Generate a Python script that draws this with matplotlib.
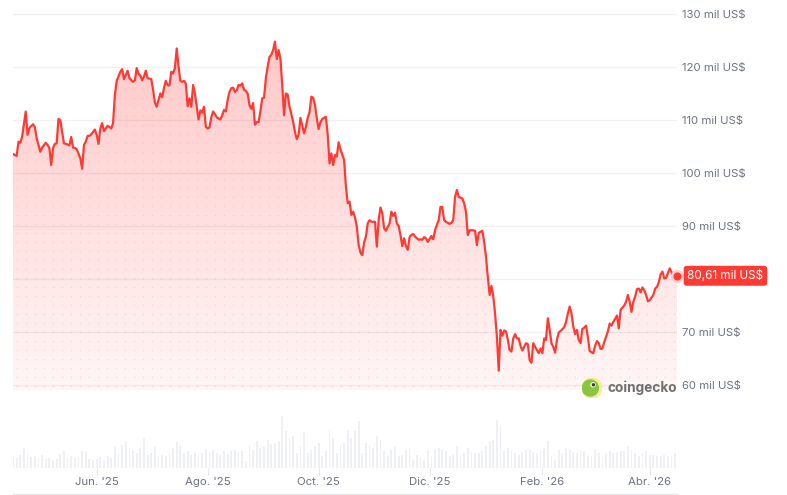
import numpy as np
import matplotlib
matplotlib.use('Agg')
import matplotlib.pyplot as plt
import matplotlib.dates as mdates
from matplotlib.colors import LinearSegmentedColormap
from matplotlib.lines import Line2D
from matplotlib.patches import Circle

plt.rcParams['font.family'] = ['Inter', 'DejaVu Sans']

start = np.datetime64('2025-04-16')

# days since start, price in thousands of USD
price_days = [0, 2, 3, 4, 5, 7, 8, 9, 11, 12, 13, 15, 16, 18, 19, 20, 21, 22, 23, 24,
              25, 26, 27, 28, 30, 31, 32, 33, 34, 35, 37, 38, 39, 40, 41, 42, 43, 45, 46, 47,
              48, 49, 50, 52, 53, 54, 55, 56, 57, 59, 60, 61, 63, 64, 66, 67, 68, 69, 70, 71,
              72, 73, 74, 76, 77, 78, 79, 80, 81, 82, 83, 84, 85, 86, 87, 88, 89, 90, 91, 92,
              93, 94, 95, 96, 97, 98, 99, 100, 101, 102, 103, 104, 105, 106, 107, 108, 109, 110, 111, 112,
              114, 115, 116, 117, 118, 119, 120, 121, 122, 123, 124, 125, 126, 127, 128, 129, 130, 131, 132, 133,
              134, 135, 136, 137, 138, 139, 140, 141, 142, 143, 144, 145, 146, 147, 148, 149, 150, 151, 152, 154,
              155, 156, 157, 158, 160, 161, 162, 163, 164, 165, 166, 167, 168, 169, 170, 172, 173, 174, 175, 176,
              177, 178, 179, 180, 182, 183, 184, 185, 186, 187, 188, 189, 190, 191, 192, 193, 194, 195, 196, 197,
              199, 200, 201, 202, 203, 204, 205, 206, 207, 208, 209, 210, 211, 212, 213, 214, 215, 216, 217, 218,
              219, 220, 221, 223, 224, 225, 226, 227, 228, 230, 231, 232, 233, 234, 235, 236, 237, 238, 240, 241,
              242, 243, 244, 245, 247, 248, 249, 250, 251, 253, 254, 255, 256, 258, 259, 260, 261, 262, 263, 264,
              265, 266, 267, 268, 269, 270, 271, 272, 273, 274, 275, 276, 277, 278, 279, 280, 281, 282, 283, 284,
              285, 286, 287, 289, 290, 291, 292, 293, 294, 295, 296, 297, 298, 299, 300, 301, 303, 304, 305, 306,
              307, 308, 309, 310, 311, 312, 313, 314, 315, 316, 317, 318, 319, 320, 321, 322, 323, 324, 325, 326,
              327, 328, 329, 330, 331, 332, 333, 334, 335, 336, 337, 338, 339, 340, 341, 342, 343, 344, 345, 346,
              347, 348, 349, 350, 352, 353, 354, 355, 356, 357, 358, 359, 360, 361, 362, 363, 364, 365]
price_k = [103.6, 103.2, 105.9, 105.7, 106.8, 111.6, 107.2, 108.5, 109.2, 108.7, 106.6, 104.0, 104.8, 105.7, 105.3, 104.7, 101.5, 104.7, 105.5, 105.6,
           110.2, 110.0, 107.8, 105.6, 105.4, 105.2, 106.8, 104.8, 104.7, 104.5, 102.8, 100.8, 105.3, 105.9, 107.0, 107.0, 107.3, 108.2, 107.2, 105.5,
           108.4, 109.4, 107.9, 108.9, 108.7, 108.4, 109.4, 114.7, 117.4, 119.1, 119.6, 117.7, 119.3, 117.9, 117.2, 117.5, 119.8, 118.7, 118.4, 117.5,
           118.2, 119.3, 117.9, 117.7, 115.7, 113.3, 112.5, 113.8, 115.0, 114.3, 116.0, 117.4, 116.6, 116.5, 119.1, 118.8, 119.8, 123.5, 120.1, 117.4,
           117.2, 117.4, 116.9, 112.6, 114.1, 112.5, 116.6, 115.0, 112.5, 110.1, 111.8, 111.4, 112.5, 108.7, 108.4, 108.6, 110.5, 111.6, 111.1, 110.5,
           110.1, 110.9, 111.9, 111.6, 113.8, 115.3, 116.0, 116.1, 115.3, 115.6, 116.6, 116.5, 116.9, 115.7, 115.5, 115.0, 112.8, 112.1, 113.2, 109.1,
           109.6, 109.6, 111.6, 114.1, 114.2, 117.9, 120.1, 121.9, 122.3, 123.2, 124.8, 121.5, 123.2, 121.6, 116.6, 110.9, 115.0, 114.8, 112.5, 109.7,
           107.7, 106.4, 107.2, 110.4, 107.5, 108.7, 110.4, 111.5, 114.4, 114.2, 112.8, 110.3, 108.3, 109.6, 110.2, 110.6, 107.2, 101.8, 103.7, 101.5,
           103.4, 103.1, 105.8, 104.5, 102.5, 97.4, 94.3, 94.6, 92.1, 92.7, 91.6, 89.9, 86.4, 85.0, 84.5, 86.9, 88.0, 90.5, 91.1, 90.8,
           90.8, 86.1, 91.1, 93.5, 92.4, 89.6, 89.1, 89.8, 90.5, 92.7, 91.9, 92.5, 90.5, 90.0, 88.3, 86.2, 87.7, 86.2, 85.5, 87.9,
           88.3, 88.5, 88.0, 87.4, 87.5, 87.4, 87.9, 87.7, 87.0, 88.1, 87.5, 89.2, 90.2, 91.1, 93.6, 93.6, 91.1, 90.8, 90.4, 90.6,
           91.1, 95.5, 96.8, 95.5, 95.2, 94.3, 92.7, 88.3, 89.2, 89.2, 89.1, 86.4, 88.7, 89.1, 87.0, 84.2, 80.4, 77.0, 78.7, 76.8,
           73.5, 69.1, 62.7, 70.4, 69.3, 70.3, 70.1, 68.6, 66.6, 66.3, 68.8, 69.6, 68.8, 68.8, 67.4, 66.5, 67.2, 67.9, 67.7, 64.7,
           64.2, 67.9, 67.2, 66.0, 66.9, 66.0, 68.8, 68.5, 72.6, 70.4, 67.9, 67.2, 66.1, 68.5, 69.9, 70.2, 70.9, 71.9, 73.5, 74.8,
           73.5, 71.0, 69.6, 70.4, 68.5, 67.9, 70.6, 70.8, 71.2, 69.1, 66.4, 66.2, 66.0, 67.4, 68.3, 67.9, 66.8, 66.9, 68.1, 69.1,
           70.1, 71.6, 71.2, 71.9, 72.5, 73.1, 70.7, 74.2, 74.6, 75.0, 75.7, 77.0, 75.7, 73.8, 75.7, 76.7, 78.1, 78.2, 77.5, 78.4,
           77.9, 77.0, 75.8, 76.0, 77.0, 78.2, 78.5, 79.4, 80.9, 81.4, 80.1, 80.2, 81.1, 82.0, 81.3, 80.0, 80.2, 80.61]

# volume every second day, billions USD
vol_days = list(range(0, 365, 2))
volume_bn = [10, 10, 13, 20, 13, 11, 12, 10, 13, 9, 10, 8, 9, 14, 17, 10, 12, 10, 11, 17,
             16, 9, 8, 9, 11, 8, 12, 10, 22, 14, 23, 26, 20, 17, 15, 20, 30, 13, 15, 22,
             12, 13, 12, 13, 20, 26, 22, 15, 17, 13, 15, 13, 15, 19, 16, 18, 15, 13, 17, 14,
             17, 18, 16, 17, 7, 23, 18, 27, 20, 22, 28, 24, 25, 27, 52, 37, 30, 32, 15, 22,
             36, 15, 18, 22, 25, 12, 17, 37, 30, 15, 23, 25, 38, 30, 37, 47, 15, 25, 23, 20,
             32, 28, 17, 12, 18, 22, 12, 13, 18, 20, 8, 13, 11, 8, 17, 12, 18, 20, 19, 17,
             12, 14, 22, 13, 15, 20, 16, 15, 15, 17, 22, 27, 28, 48, 43, 17, 20, 17, 15, 13,
             16, 18, 18, 16, 15, 17, 20, 27, 12, 8, 18, 15, 20, 18, 16, 15, 18, 17, 12, 12,
             18, 15, 12, 15, 17, 15, 16, 17, 17, 22, 18, 15, 12, 15, 17, 13, 13, 12, 12, 13,
             12, 12, 15]

tick_dates = ['2025-06-01', '2025-08-01', '2025-10-01', '2025-12-01', '2026-02-01', '2026-04-01']
tick_labels = ["Jun. '25", "Ago. '25", "Oct. '25", "Dic. '25", "Feb. '26", "Abr. '26"]
y_ticks = [60, 70, 80, 90, 100, 110, 120, 130]
last_label = '80,61 mil US$'

W, H = 787, 495
RED = '#ff3a33'
GREY = '#6b7280'


def rect(x0, y0, x1, y1):
    return [x0 / W, 1 - y1 / H, (x1 - x0) / W, (y1 - y0) / H]


fig = plt.figure(figsize=(W / 100, H / 100), dpi=100)
ax = fig.add_axes(rect(13, 5, 677, 390))
axv = fig.add_axes(rect(13, 400, 677, 468), sharex=ax)

dates = start + np.array(price_days).astype('timedelta64[D]')
x = mdates.date2num(dates)
y = np.array(price_k)
ylo, yhi = 59.06, 131.7

# gradient fill under the line
fill = ax.fill_between(x, y, ylo, color='none', lw=0)
clip = fill.get_paths()[0]
cmap = LinearSegmentedColormap.from_list('pink', ['#fff6f6', '#ffc4c4'])
grad = np.linspace(0, 1, 200).reshape(-1, 1)
img = ax.imshow(grad, cmap=cmap, extent=[x[0], x[-1], ylo, yhi], aspect='auto',
                origin='lower', zorder=1, interpolation='bilinear')
img.set_clip_path(clip, ax.transData)

# dotted texture
gx, gy = np.meshgrid(np.arange(4, 664, 9) / 664, np.arange(4, 385, 9) / 385)
dots = ax.scatter(gx.ravel(), gy.ravel(), s=1.2, color='#ff9e9e', alpha=0.35,
                  lw=0, transform=ax.transAxes, zorder=1.2)
dots.set_clip_path(clip, ax.transData)

for v in y_ticks:
    ax.axhline(v, color=(0, 0, 0, 0.055), lw=0.9, zorder=1.5)

ax.plot(x, y, color=RED, lw=1.6, zorder=3, solid_joinstyle='round')
ax.scatter([x[-1]], [y[-1]], s=90, color='#ffd0d0', lw=0, zorder=4, clip_on=False)
ax.scatter([x[-1]], [y[-1]], s=34, color=RED, lw=0, zorder=5, clip_on=False)

ax.annotate(last_label, xy=(x[-1], y[-1]), xytext=(7.5, 0), textcoords='offset points',
            ha='left', va='center', color='white', fontsize=8.4, annotation_clip=False,
            zorder=6, bbox=dict(boxstyle='round,pad=0.32,rounding_size=0.25', fc=RED, ec='none'))

ax.set_xlim(x[0], x[-1])
ax.set_ylim(ylo, yhi)
ax.yaxis.tick_right()
ax.set_yticks(y_ticks)
ax.set_yticklabels(['' if v == 80 else f'{v} mil US$' for v in y_ticks])
ax.tick_params(axis='y', length=0, pad=3.8, labelsize=8.2, labelcolor=GREY)
ax.tick_params(axis='x', length=0, labelbottom=False)
for s in ax.spines.values():
    s.set_visible(False)

# volume bars
vdates = mdates.date2num(start + np.array(vol_days).astype('timedelta64[D]'))
axv.bar(vdates, volume_bn, width=1.0, color='#eef0f4', lw=0)
axv.set_ylim(0, 68)
axv.set_xlim(x[0], x[-1])
axv.set_yticks([])
for s in axv.spines.values():
    s.set_visible(False)
tpos = mdates.date2num(np.array(tick_dates, dtype='datetime64[D]'))
axv.set_xticks(tpos)
axv.set_xticklabels(tick_labels)
axv.tick_params(axis='x', length=5, width=0.8, color='#e3e5e9', pad=1.5,
                labelsize=8.2, labelcolor=GREY)

fig.add_artist(Line2D([13 / W, 677 / W], [1 - 494 / H] * 2, color='#e5e7eb', lw=1))

# coingecko mark
lg = fig.add_axes(rect(582, 378, 602, 398))
lg.set_xlim(0, 1)
lg.set_ylim(0, 1)
lg.set_aspect('equal')
lg.axis('off')
lg.add_patch(Circle((0.5, 0.5), 0.5, color='#f7ec9a'))
lg.add_patch(Circle((0.42, 0.5), 0.4, color='#8bc53f'))
lg.add_patch(Circle((0.55, 0.66), 0.1, color='white'))
lg.add_patch(Circle((0.57, 0.66), 0.05, color='#3d3d3d'))
fig.text(608 / W, 1 - 388 / H, 'coingecko', ha='left', va='center', fontsize=9.8,
         fontweight='bold', color='#707070')

fig.savefig('out.png', dpi=100)
